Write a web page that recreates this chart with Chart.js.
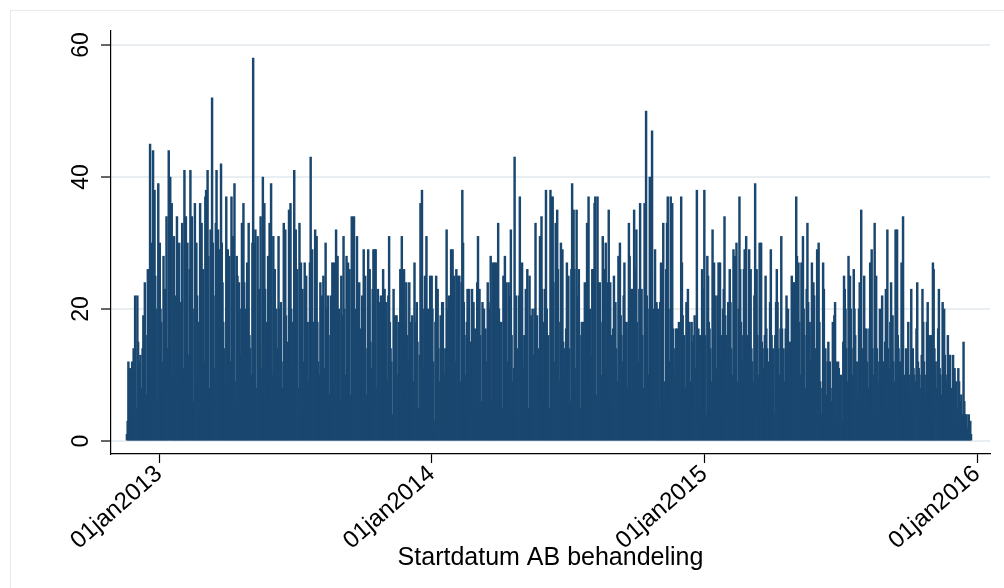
<!DOCTYPE html>
<html><head><meta charset="utf-8">
<script src="https://cdn.jsdelivr.net/npm/chart.js@4/dist/chart.umd.min.js"></script>
<style>html,body{margin:0;padding:0;background:#fff}#wrap{width:1004px;height:588px;position:relative}</style>
</head><body><div id="wrap"><canvas id="c" width="1004" height="588"></canvas></div>
<script>
// Daily counts, one row per week (Mon..Sun)
const segmentStarts = ['2012-11-19', '2014-01-06', '2015-01-05'];
const weeksA = [
[1,3,12,6,11,3,2],[12,7,14,10,22,5,3],[22,15,12,9,13,8,3],[14,19,12,24,16,5,7],[26,18,14,45,30,10,4],
[44,30,38,25,20,6,2],[39,25,30,20,18,12,9],[28,18,23,15,34,14,8],[44,30,40,26,36,10,6],[31,20,22,15,34,4,8],
[30,18,21,14,33,11,6],[41,28,34,20,30,8,13],[26,41,22,34,20,6,5],[36,24,30,22,18,9,4],[36,24,33,20,26,12,5],
[37,38,25,41,28,8,4],[32,20,52,30,22,6,11],[33,41,24,32,29,10,5],[42,30,24,18,14,4,9],[37,20,29,16,28,7,12],
[37,22,31,20,39,9,6],[28,25,18,24,20,13,8],[33,26,36,24,20,10,6],[27,20,33,16,14,5,10],[30,58,24,30,32,8,6],
[31,20,23,15,34,11,4],[40,28,36,23,18,6,9],[28,20,33,24,39,10,6],[31,22,26,18,20,14,5],[31,20,14,21,12,4,8],
[33,22,32,19,15,9,4],[35,24,36,20,18,6,11],[41,28,32,20,26,8,5],[33,20,27,16,23,12,4],[27,18,25,14,18,5,9],
[27,43,20,29,18,7,5],[32,22,31,18,12,4,10],[24,17,22,15,25,11,4],[30,20,17,22,16,7,5],[22,18,27,20,27,8,13],
[32,22,28,18,20,6,4],[25,19,18,31,20,10,7],[28,20,27,18,26,7,5],[34,26,22,34,20,12,4],[31,23,16,24,17,6,9],
[22,16,29,18,25,7,5],[14,29,20,26,15,11,4],[23,29,20,29,29,8,5],[23,16,21,15,22,6,10],[26,18,23,14,21,9,4],
[22,31,18,14,12,4,3],[23,16,19,12,19,10,4],[18,14,26,20,31,6,8],[26,18,15,24,16,12,4],[24,16,18,14,19,6,9],
[27,18,17,21,15,5,4],[13,36,24,38,20,11,4],[25,18,31,15,20,5,8],[25,18,25,20,12,3,2]
];
const weeksB = [
[18,25,16,23,14,9,4],[19,14,21,21,14,5,10],[14,32,20,16,22,6,4],[29,20,29,20,25,12,4],[26,18,25,17,25,6,9],
[24,38,30,21,16,10,4],[18,23,16,23,15,5,8],[23,16,21,12,17,11,4],[24,31,18,23,16,6,5],[21,15,20,14,17,9,12],
[24,21,16,20,28,6,4],[27,18,27,20,27,10,7],[33,20,18,14,18,5,4],[25,18,28,20,24,12,6],[24,18,22,32,16,5,9],
[11,43,19,22,14,6,4],[22,37,26,20,27,11,7],[16,12,23,18,26,5,4],[25,18,19,14,20,9,13],[20,33,18,19,14,5,4],
[31,22,34,23,18,10,6],[23,38,20,8,16,5,3],[38,37,26,37,24,12,4],[33,22,35,26,18,6,9],[30,20,29,15,14,10,4],
[17,27,18,25,14,6,5],[26,39,24,35,26,11,8],[35,22,18,26,16,5,4],[18,14,18,12,24,9,4],[33,24,37,18,20,13,6],
[26,26,20,36,37,7,5],[37,24,20,24,18,6,10],[31,20,26,18,30,11,4],[24,35,22,24,16,6,5],[17,25,16,21,14,9,7],
[28,20,30,19,16,5,12],[22,27,18,14,18,8,4],[33,28,20,23,23,6,10],[35,26,20,32,18,12,4],[23,36,20,23,16,6,8],
[36,24,50,22,20,10,4],[40,17,26,47,20,6,11],[29,17,21,14,20,5,4],[21,27,18,26,33,9,6],[6,26,33,37,20,6,12],
[37,22,36,17,14,10,4],[17,12,17,10,18,4,3],[37,27,19,14,16,8,5],[21,14,23,12,18,5,9],[18,15,12,16,19,11,4],
[38,14,17,12,16,5,3],[26,23,18,38,16,4,3]
];
const weeksC = [
[28,25,18,17,14,9,4],[32,20,27,18,22,6,11],[22,27,18,27,16,12,4],[20,23,34,19,16,6,8],[21,16,26,21,14,10,4],
[29,20,28,18,30,6,9],[20,37,26,18,16,12,5],[26,29,19,31,16,6,4],[29,20,26,14,12,9,4],[22,39,17,26,16,5,10],
[30,20,30,15,14,11,4],[16,25,17,14,12,5,8],[21,29,16,11,14,4,3],[16,21,26,21,14,10,4],[17,31,17,12,14,5,9],
[17,22,14,20,15,8,4],[15,25,18,24,24,6,11],[37,28,20,27,18,10,4],[27,20,31,20,16,6,8],[23,33,21,16,18,12,4],
[27,18,24,22,14,5,9],[29,22,30,18,9,4,3],[8,27,23,11,14,7,3],[12,15,10,12,8,4,6],[18,12,19,21,12,8,3],
[12,11,8,3,10,3,2],[15,25,23,20,14,9,3],[28,18,25,20,14,5,10],[26,20,16,10,12,4,7],[20,24,16,35,14,11,4],
[25,17,14,17,12,4,8],[17,27,18,29,14,10,4],[33,17,25,14,12,5,9],[20,19,15,22,12,8,3],[15,23,16,32,14,5,11],
[18,24,14,19,12,9,3],[32,20,32,16,14,5,12],[11,27,20,34,10,4,8],[14,11,8,18,10,7,3],[23,11,14,11,10,4,9],
[17,24,12,11,10,8,3],[13,23,18,12,10,4,7],[18,21,16,12,16,9,3],[16,27,26,14,12,4,8],[12,17,23,11,10,7,3],
[21,14,20,13,10,4,9],[16,10,13,13,8,6,2],[13,8,11,6,9,3,5],[11,9,6,3,7,2,4],[15,6,4,3,4,2,1],
[4,3,3,1]
];
const xTickDates = ['2013-01-01', '2014-01-01', '2015-01-01', '2016-01-01'];
const xTickLabels = ['01jan2013', '01jan2014', '01jan2015', '01jan2016'];
const yTicks = [0, 20, 40, 60];
const xTitle = 'Startdatum AB behandeling';

const DAY = 86400000;
const ORIGIN = Date.UTC(2013, 0, 1);
function dayNum(s) { const p = s.split('-').map(Number); return Math.round((Date.UTC(p[0], p[1]-1, p[2]) - ORIGIN) / DAY); }
const points = [];
[[weeksA, segmentStarts[0]], [weeksB, segmentStarts[1]], [weeksC, segmentStarts[2]]].forEach(([weeks, start]) => {
  let d = dayNum(start);
  weeks.forEach(w => w.forEach(v => { points.push({x: d, y: v}); d++; }));
});
const xTickValues = xTickDates.map(dayNum);

const FONT = "'Liberation Sans', Arial, Helvetica, sans-serif";
const frame = {
  id: 'frame',
  beforeDraw(chart) {
    const c = chart.ctx; c.save();
    c.fillStyle = '#fff'; c.fillRect(0, 0, chart.width, chart.height);
    c.strokeStyle = '#e6ebef'; c.lineWidth = 1;
    c.strokeRect(10.5, 10.5, 1100, 700);
    c.restore();
  }
};

new Chart(document.getElementById('c'), {
  type: 'bar',
  data: { datasets: [{ data: points, backgroundColor: '#1a476f', borderWidth: 0, barThickness: 1.8, grouped: false }] },
  options: {
    responsive: false, animation: false, events: [],
    layout: { padding: { left: 0, top: 31, right: 14, bottom: 0 } },
    plugins: { legend: { display: false }, tooltip: { enabled: false } },
    scales: {
      x: {
        type: 'linear', min: -64.3, max: 1112.4, offset: false,
        afterBuildTicks: s => { s.ticks = xTickValues.map(v => ({ value: v })); },
        afterFit: s => { s.height = 134; },
        ticks: { autoSkip: false, minRotation: 41, maxRotation: 41, padding: -3, color: '#000',
          font: { family: FONT, size: 24 },
          callback: v => { const i = xTickValues.indexOf(v); return i >= 0 ? xTickLabels[i] : ''; } },
        grid: { offset: false, drawOnChartArea: false, drawTicks: true, tickLength: 9, tickColor: '#000', tickWidth: 1.2 },
        border: { display: true, color: '#000', width: 1.2 },
        title: { display: true, text: xTitle, color: '#000', font: { family: FONT, size: 25 }, padding: { top: 0, bottom: 15 } }
      },
      y: {
        min: -1.97, max: 62.12,
        afterBuildTicks: s => { s.ticks = yTicks.map(v => ({ value: v })); },
        afterFit: s => { s.width = 111; },
        ticks: { minRotation: 90, maxRotation: 90, crossAlign: 'center', padding: 7, color: '#000',
          font: { family: FONT, size: 23 }, callback: v => String(v) },
        grid: { color: '#e8eef2', lineWidth: 2, drawTicks: true, tickColor: '#000', tickLength: 10, tickWidth: 1.2 },
        border: { display: true, color: '#000', width: 1.2 }
      }
    }
  },
  plugins: [frame]
});
</script>
</body></html>
